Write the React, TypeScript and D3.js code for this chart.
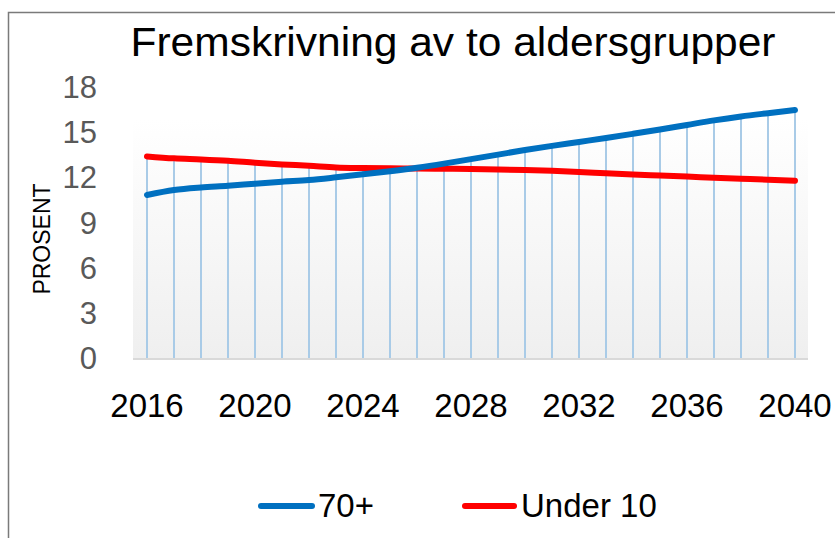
import React from "react";
import * as d3 from "d3";

const years: number[] = [
  2016, 2017, 2018, 2019, 2020, 2021, 2022, 2023, 2024, 2025, 2026, 2027, 2028,
  2029, 2030, 2031, 2032, 2033, 2034, 2035, 2036, 2037, 2038, 2039, 2040,
];
const over70: number[] = [
  10.82, 11.15, 11.32, 11.43, 11.57, 11.7, 11.81, 11.99, 12.19, 12.4, 12.63,
  12.9, 13.2, 13.5, 13.8, 14.08, 14.34, 14.6, 14.88, 15.17, 15.47, 15.77,
  16.03, 16.25, 16.46,
];
const under10: number[] = [
  13.38, 13.25, 13.18, 13.09, 12.96, 12.85, 12.76, 12.65, 12.61, 12.59, 12.58,
  12.56, 12.54, 12.51, 12.47, 12.42, 12.35, 12.26, 12.18, 12.11, 12.04, 11.97,
  11.9, 11.83, 11.77,
];
const yTicks: number[] = [0, 3, 6, 9, 12, 15, 18];
const xTickLabels: number[] = [2016, 2020, 2024, 2028, 2032, 2036, 2040];
const seriesNames: string[] = ["70+", "Under 10"];
const title = "Fremskrivning av to aldersgrupper";
const yTitle = "PROSENT";

const W = 835;
const H = 538;
const FONT = "'Liberation Sans', Arial, sans-serif";

export default function App() {
  const x = d3.scaleLinear().domain([2016, 2040]).range([147, 795]);
  const y = d3.scaleLinear().domain([0, 18]).range([358, 86.8]);

  const line = d3
    .line<number>()
    .x((_, i) => x(years[i]))
    .y((d) => y(d))
    .curve(d3.curveMonotoneX);

  const plotLeft = 133;
  const plotRight = 808;
  const plotTop = 119;
  const plotBottom = y(0);

  return (
    <div style={{ position: "absolute", left: 0, top: 0 }}>
      <svg width={W} height={H} style={{ display: "block" }}>
        <defs>
          <linearGradient id="bg" x1="0" y1="0" x2="0" y2="1">
            <stop offset="0%" stopColor="#ffffff" />
            <stop offset="100%" stopColor="#efefef" />
          </linearGradient>
        </defs>
        <rect x={0} y={0} width={W} height={H} fill="#ffffff" />
        <rect
          x={8.5}
          y={12.5}
          width={900}
          height={600}
          fill="none"
          stroke="#7a7a7a"
          strokeWidth={1.5}
        />
        <text
          x={453}
          y={56}
          textAnchor="middle"
          fontFamily={FONT}
          fontSize={40}
          fill="#000"
          textLength={645}
          lengthAdjust="spacingAndGlyphs"
        >
          {title}
        </text>
        <rect
          x={plotLeft}
          y={plotTop}
          width={plotRight - plotLeft}
          height={plotBottom - plotTop}
          fill="url(#bg)"
        />
        {years.map((yr, i) => (
          <line
            key={yr}
            x1={x(yr)}
            x2={x(yr)}
            y1={y(Math.max(over70[i], under10[i]))}
            y2={plotBottom}
            stroke="#a9cbe7"
            strokeWidth={2}
          />
        ))}
        <line
          x1={plotLeft}
          x2={plotRight}
          y1={plotBottom + 1}
          y2={plotBottom + 1}
          stroke="#d9d9d9"
          strokeWidth={2}
        />
        <path
          d={line(under10) || ""}
          fill="none"
          stroke="#ff0000"
          strokeWidth={6}
          strokeLinecap="round"
          strokeLinejoin="round"
        />
        <path
          d={line(over70) || ""}
          fill="none"
          stroke="#0070c0"
          strokeWidth={6}
          strokeLinecap="round"
          strokeLinejoin="round"
        />
        {yTicks.map((t) => (
          <text
            key={t}
            x={97}
            y={y(t)}
            dy="0.36em"
            textAnchor="end"
            fontFamily={FONT}
            fontSize={31}
            fill="#595959"
          >
            {t}
          </text>
        ))}
        <text
          transform={`translate(50,239) rotate(-90)`}
          textAnchor="middle"
          fontFamily={FONT}
          fontSize={23}
          fill="#000"
        >
          {yTitle}
        </text>
        {xTickLabels.map((t) => (
          <text
            key={t}
            x={x(t)}
            y={417}
            textAnchor="middle"
            fontFamily={FONT}
            fontSize={33}
            fill="#000"
          >
            {t}
          </text>
        ))}
        <line
          x1={261}
          x2={312}
          y1={506}
          y2={506}
          stroke="#0070c0"
          strokeWidth={6}
          strokeLinecap="round"
        />
        <text x={318} y={517} fontFamily={FONT} fontSize={33} fill="#000">
          {seriesNames[0]}
        </text>
        <line
          x1={465}
          x2={514}
          y1={506}
          y2={506}
          stroke="#ff0000"
          strokeWidth={6}
          strokeLinecap="round"
        />
        <text x={521} y={517} fontFamily={FONT} fontSize={33} fill="#000">
          {seriesNames[1]}
        </text>
      </svg>
    </div>
  );
}
